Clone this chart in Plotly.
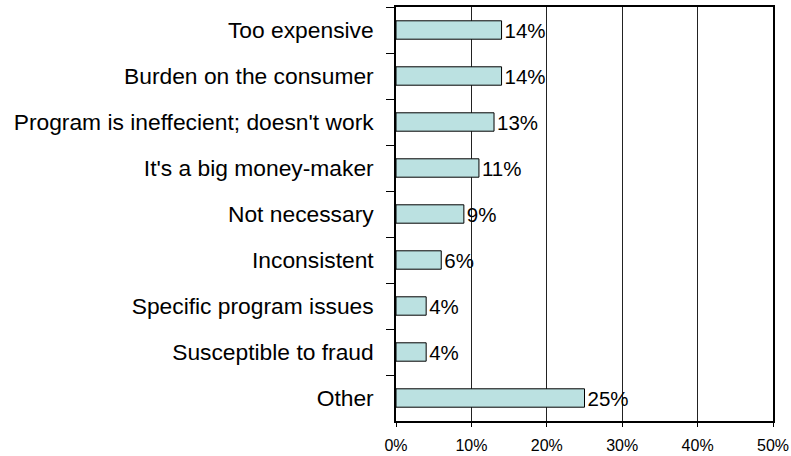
import plotly.graph_objects as go

categories = ["Too expensive", "Burden on the consumer", "Program is ineffecient; doesn't work",
              "It's a big money-maker", "Not necessary", "Inconsistent",
              "Specific program issues", "Susceptible to fraud", "Other"]
values = [14, 14, 13, 11, 9, 6, 4, 4, 25]
value_labels = [f"{v}%" for v in values]
x_ticks = [0, 10, 20, 30, 40, 50]
x_tick_labels = [f"{t}%" for t in x_ticks]

fig = go.Figure(go.Bar(
    y=categories, x=values, orientation="h",
    text=value_labels, textposition="outside", constraintext="none",
    textfont=dict(family="Liberation Sans, Arial", size=20.5, color="black"),
    marker=dict(color="#BBE1E1", line=dict(color="black", width=1)),
    cliponaxis=False,
))

fig.update_layout(
    width=791, height=456,
    margin=dict(l=396, r=18, t=7, b=35),
    paper_bgcolor="white", plot_bgcolor="white",
    bargap=0.6, showlegend=False,
    font=dict(family="Liberation Sans, Arial", color="black"),
)
fig.update_xaxes(
    range=[0, 50], tickvals=x_ticks, ticktext=x_tick_labels,
    showgrid=True, gridcolor="#222", gridwidth=1,
    showline=True, linecolor="black", linewidth=1.5, mirror=True,
    ticks="outside", ticklen=4, tickcolor="black", ticklabelstandoff=5,
    tickfont=dict(size=16), zeroline=False, automargin=False,
)
fig.update_yaxes(
    autorange="reversed", type="category",
    showline=True, linecolor="black", linewidth=1.5, mirror=True,
    ticks="outside", ticklen=8, tickcolor="black", tickson="boundaries",
    ticklabelstandoff=16, automargin=False,
    tickfont=dict(size=22.8), showgrid=False,
)

fig.write_html("out.html", config={"displayModeBar": False},
               post_script="document.body.style.margin='0';")
